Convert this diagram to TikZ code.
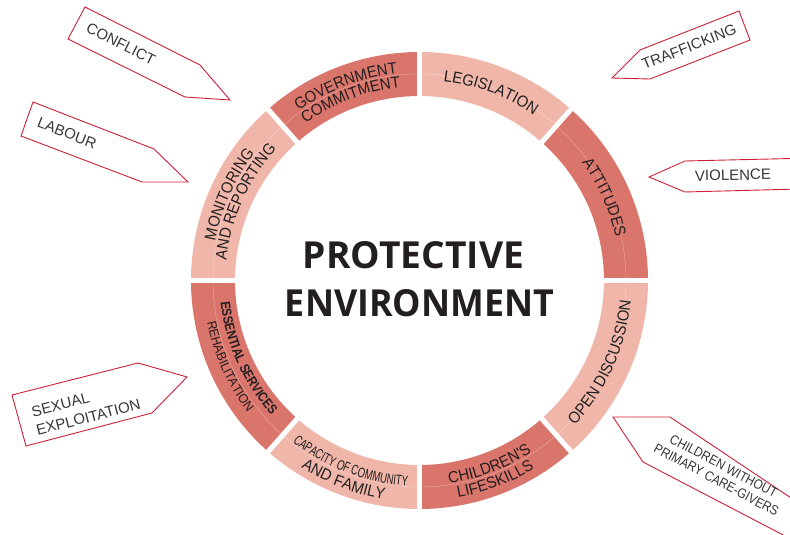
\documentclass[tikz,border=0pt]{standalone}
\usepackage{fontspec}
\setmainfont{Liberation Sans}
\newfontfamily\titlefont{Open Sans}
\newfontfamily\condfont{Liberation Sans}[FakeStretch=0.68]
\newfontfamily\narrowfont{Liberation Sans}[FakeStretch=0.88]
\newfontfamily\ringfont{Liberation Sans}[FakeStretch=0.93]
\newfontfamily\ringboldfont{Liberation Sans Bold}[FakeStretch=0.85]
\usetikzlibrary{decorations.text}
\definecolor{segdark}{RGB}{217,117,107}
\definecolor{seglight}{RGB}{239,182,169}
\definecolor{tagred}{RGB}{205,32,55}
\definecolor{ringtext}{RGB}{35,31,32}
\definecolor{taggray}{RGB}{55,55,55}
\tikzset{
  tagbox/.style={draw=tagred, line width=0.9pt, fill=white, line join=miter},
  tagtext/.style={text=taggray, font=\fontsize{15}{19}\selectfont, inner sep=0pt},
  titletext/.style={text=ringtext, inner sep=0pt},
}
% annular sector
\newcommand\RingSeg[3]{\fill[#3] ([shift={(#1:228.5pt)}]C) arc[start angle=#1,end angle=#2,radius=228.5pt] -- ([shift={(#2:184.5pt)}]C) arc[start angle=#2,end angle=#1,radius=184.5pt] -- cycle;}
% clockwise text, tops outward: radius, mid angle, format, text
\newcommand\RingCW[4]{\path[decorate,decoration={text along path,text align=center,text={|#3\color{ringtext}|#4}}] ([shift={({#2+40}:#1pt)}]C) arc[start angle={#2+40},end angle={#2-40},radius=#1pt];}
% counter-clockwise text, tops inward
\newcommand\RingCCW[4]{\path[decorate,decoration={text along path,text align=center,text={|#3\color{ringtext}|#4}}] ([shift={({#2-40}:#1pt)}]C) arc[start angle={#2-40},end angle={#2+40},radius=#1pt];}
\begin{document}
\begin{tikzpicture}[x=1pt,y=1pt]
\useasboundingbox (0,0) rectangle (790,535);
\fill[white] (0,0) rectangle (790,535);
\clip (0,0) rectangle (790,535);
\coordinate (C) at (419.5,254.5);

% ring segments
\RingSeg{0}{48.5}{segdark}
\RingSeg{48.5}{90}{seglight}
\RingSeg{90}{131.5}{segdark}
\RingSeg{131.5}{180}{seglight}
\RingSeg{180}{228.5}{segdark}
\RingSeg{228.5}{270}{seglight}
\RingSeg{270}{311.5}{segdark}
\RingSeg{311.5}{360}{seglight}
\draw[white, opacity=0.35, line width=0.5pt] (C) circle[radius=206.5pt];
\foreach \a in {0,48.5,90,131.5,180,228.5,270,311.5}
  \draw[white, line width=5pt] ([shift={(\a:180pt)}]C) -- ([shift={(\a:233pt)}]C);

% ring labels
\def\rf{\ringfont\fontsize{16}{16}\selectfont}
\RingCW{208}{110.75}{\rf}{GOVERNMENT}
\RingCW{194}{110.75}{\rf}{COMMITMENT}
\RingCW{200.8}{69.25}{\rf}{LEGISLATION}
\RingCW{200.8}{24.25}{\rf}{ATTITUDES}
\RingCW{208}{155.75}{\rf}{MONITORING}
\RingCW{194}{155.75}{\rf}{AND REPORTING}
\RingCCW{212.3}{335.75}{\rf}{OPEN DISCUSSION}
\RingCCW{205}{290.75}{\rf}{CHILDREN'S}
\RingCCW{220.5}{290.75}{\rf}{LIFESKILLS}
\RingCCW{205.5}{249.25}{\condfont\fontsize{14}{14}\selectfont}{CAPACITY OF COMMUNITY}
\RingCCW{221.5}{249.25}{\rf}{AND FAMILY}
\RingCCW{200}{204.25}{\ringboldfont\fontsize{13.5}{13.5}\selectfont}{ESSENTIAL SERVICES}
\RingCCW{216.5}{204.25}{\ringfont\fontsize{13}{13}\selectfont}{REHABILITATION}

% title
\node[titletext] (t1) at (413.5,279.5) {\resizebox{221pt}{27pt}{\titlefont\bfseries PROTECTIVE}};
\node[titletext] (t2) at (419.5,231.5) {\resizebox{269pt}{27pt}{\titlefont\bfseries ENVIRONMENT}};

% tags
\draw[tagbox] (85,528) -- (200,470) -- (230,435) -- (185,438) -- (68,496) -- cycle;
\node[tagtext, rotate=-26.7] (conflict) at (121,491) {CONFLICT};

\draw[tagbox] (33,433) -- (154,386) -- (188,353) -- (142,353) -- (21,399) -- cycle;
\node[tagtext, rotate=-21.2] (labour) at (67,402) {LABOUR};

\draw[tagbox] (739,524) -- (750,495) -- (650,456) -- (612,457) -- (640,485) -- cycle;
\node[tagtext, rotate=21.3] (trafficking) at (689,488) {TRAFFICKING};

\draw[tagbox] (649,358) -- (685,374) -- (800,376.7) -- (800,346) -- (685,343) -- cycle;
\node[tagtext, rotate=1.3] (violence) at (733,360) {VIOLENCE};

\draw[tagbox] (12,140) -- (138,172) -- (187,158) -- (152,122) -- (26,89) -- cycle;
\node[tagtext, rotate=14.3, align=left] (sexual) at (86,127) {SEXUAL\\EXPLOITATION};

\draw[tagbox] (613,118) -- (670,118) -- (812,23) -- (812,-15) -- (643,73) -- cycle;
\node[tagtext, rotate=-28, align=center, font=\narrowfont\fontsize{13.5}{15.5}\selectfont] (children) at (720,62) {CHILDREN WITHOUT\\PRIMARY CARE-GIVERS};
\end{tikzpicture}
\end{document}
